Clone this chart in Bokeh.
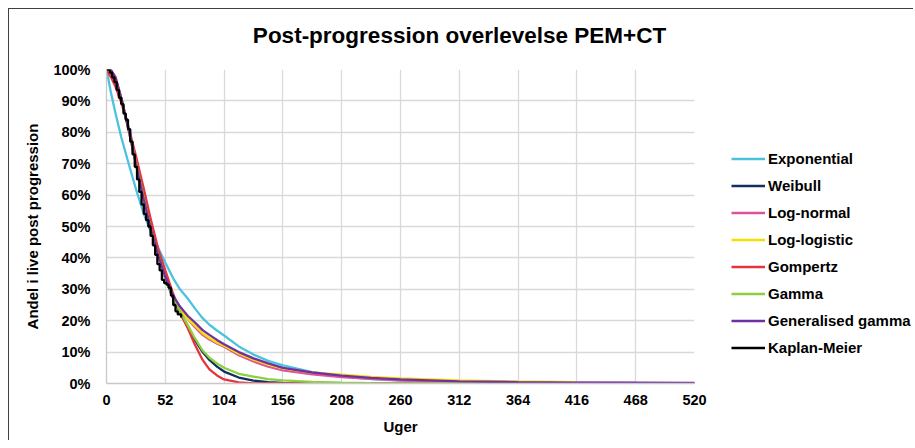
from bokeh.plotting import figure
from bokeh.layouts import row, column
from bokeh.models import (Legend, LegendItem, Label, FixedTicker,
                          PrintfTickFormatter, Range1d)
from bokeh.embed import file_html
from bokeh.resources import INLINE

weeks = [0, 4, 8, 13, 20, 26, 33, 39, 46, 52, 59, 65, 72, 78, 85, 91, 98, 104,
         117, 130, 143, 156, 182, 208, 234, 260, 312, 364, 416, 468, 520]

# survival in percent
exponential = [100, 92.5, 86, 78.5, 69.5, 62, 54, 48.5, 43, 38.5, 33.5, 30, 27, 24, 20.8, 18.7,
               16.8, 15.3, 11.8, 9.2, 7.2, 5.8, 3.6, 2.2, 1.4, 0.9, 0.35, 0.15, 0.06, 0.02, 0.01]
weibull = [100, 99, 96.5, 91, 80.5, 70.5, 59, 49.5, 40.5, 33.5, 27, 22.5, 18, 14, 10, 7.5,
           5.3, 3.8, 1.9, 0.9, 0.4, 0.17, 0.03, 0, 0, 0, 0, 0, 0, 0, 0]
log_normal = [100, 99.8, 97.5, 91, 80, 70, 58.5, 49.5, 40.5, 34.5, 28, 23.5, 20.5, 18, 15.5, 14,
              12.7, 11.7, 9, 7, 5.4, 4.2, 2.9, 2, 1.5, 1, 0.55, 0.35, 0.25, 0.18, 0.15]
log_logistic_weeks = weeks[:29]
log_logistic = [100, 99.5, 97, 91, 80, 70, 58.5, 49.5, 40.5, 34, 27.5, 23.5, 20.5, 18.5, 16, 14.5,
                13, 12, 9.5, 7.6, 6, 4.8, 3.5, 2.8, 2.1, 1.6, 0.95, 0.65, 0.45]
gompertz = [100, 97.5, 94.5, 89.5, 81, 72.5, 62, 52.5, 42.5, 36, 28.5, 22.5, 17.5, 12.5, 7.5, 4.5,
            2.5, 1.3, 0.35, 0.07, 0.01, 0, 0, 0, 0, 0, 0, 0, 0, 0, 0]
gamma = [100, 99.5, 97, 91, 80.5, 70.5, 59, 49.5, 40.5, 33.5, 27.5, 23, 18.5, 14.5, 10.5, 8.2,
         6.3, 5, 3.1, 2.2, 1.4, 1, 0.5, 0.25, 0.12, 0.06, 0.02, 0.01, 0, 0, 0]
gen_gamma = [100, 99.8, 97.5, 91, 80, 70, 58.5, 49.5, 40.5, 34, 28, 24.5, 21.5, 19.5, 17, 15.5,
             13.8, 12.5, 10, 8, 6.4, 5, 3.5, 2.5, 1.8, 1.3, 0.7, 0.45, 0.3, 0.25, 0.2]

km_weeks = [0, 3, 5, 7, 9, 11, 13, 15, 17, 19, 21, 23, 25, 27, 29, 31, 33, 35, 37, 39, 41, 43,
            45, 47, 49, 51, 53, 55, 57, 59, 61, 63, 66]
km_surv = [100, 99, 97.5, 96, 93.5, 91, 89, 86, 84, 81, 77, 73, 69, 65, 61, 57, 54, 52, 50, 47,
           44, 41, 38, 36, 33, 32, 31.5, 30.5, 28, 25, 23, 22, 21]

x_ticks = [0, 52, 104, 156, 208, 260, 312, 364, 416, 468, 520]
y_ticks = [0, 10, 20, 30, 40, 50, 60, 70, 80, 90, 100]

series_names = ["Exponential", "Weibull", "Log-normal", "Log-logistic", "Gompertz",
                "Gamma", "Generalised gamma", "Kaplan-Meier"]
series_colors = ["#4BC3DD", "#10305F", "#E0529C", "#F2E000", "#E8323C",
                 "#8DCF3F", "#7030A0", "black"]

FONT = "Liberation Sans"
BORDER = "1px solid #404040"

# title strip across the top
tf = figure(width=905, height=51, output_backend="svg", toolbar_location=None,
            x_range=Range1d(0, 1), y_range=Range1d(0, 1), min_border=0,
            x_axis_location=None, y_axis_location=None)
tf.styles = {"margin-left": "8px", "margin-top": "8px",
             "border-top": BORDER, "border-left": BORDER}
tf.outline_line_color = None
tf.grid.visible = False
tf.add_layout(Label(x=450, y=25, x_units="screen", y_units="screen",
                    text="Post-progression overlevelse PEM+CT", text_align="center",
                    text_baseline="alphabetic", text_font=FONT, text_font_style="bold",
                    text_font_size="22.5px", text_color="black"))

p = figure(width=711, height=381, output_backend="svg", toolbar_location=None,
           x_range=Range1d(0, 520), y_range=Range1d(0, 100),
           min_border_left=97, min_border_right=26, min_border_top=10, min_border_bottom=57)
p.styles = {"margin-left": "8px", "border-left": BORDER}
p.outline_line_color = None

p.xaxis.ticker = FixedTicker(ticks=x_ticks)
p.yaxis.ticker = FixedTicker(ticks=y_ticks)
p.yaxis.formatter = PrintfTickFormatter(format="%d%%")
for ax in (p.xaxis, p.yaxis):
    ax.major_tick_in = 0
    ax.major_tick_out = 0
    ax.minor_tick_in = 0
    ax.minor_tick_out = 0
    ax.axis_line_color = "#C8C8C8"
    ax.axis_line_width = 1.3
    ax.major_label_text_font = FONT
    ax.major_label_text_font_style = "bold"
    ax.major_label_text_font_size = "14.5px"
    ax.major_label_text_color = "black"
    ax.axis_label_text_font = FONT
    ax.axis_label_text_font_style = "bold"
    ax.axis_label_text_font_size = "15px"
    ax.axis_label_text_color = "black"
p.xaxis.major_label_standoff = 11
p.yaxis.major_label_standoff = 16
p.xaxis.axis_label = "Uger"
p.yaxis.axis_label = "Andel i live post progression"
p.xaxis.axis_label_standoff = 10
p.yaxis.axis_label_standoff = 9

p.grid.grid_line_color = "#D9D9D9"
p.grid.grid_line_width = 1.3

lw = 2.3
series_data = [(weeks, exponential), (weeks, weibull), (weeks, log_normal),
               (log_logistic_weeks, log_logistic), (weeks, gompertz), (weeks, gamma),
               (weeks, gen_gamma)]
for (xs, ys), color in zip(series_data, series_colors):
    p.line(xs, ys, line_color=color, line_width=lw)
p.step(km_weeks, km_surv, mode="after", line_color=series_colors[7], line_width=lw)

# legend lives in its own small canvas to the right of the plot;
# its lines reuse the data but sit outside that canvas' visible range
lg = figure(width=194, height=381, output_backend="svg", toolbar_location=None,
            x_range=Range1d(1000, 1001), y_range=Range1d(1000, 1001), min_border=0,
            x_axis_location=None, y_axis_location=None)
lg.outline_line_color = None
lg.grid.visible = False

items = []
for name, color, (xs, ys) in zip(series_names, series_colors,
                                 series_data + [(km_weeks, km_surv)]):
    r = lg.line(xs, ys, line_color=color, line_width=lw)
    items.append(LegendItem(label=name, renderers=[r]))

legend = Legend(items=items, location=(12, 27))
legend.label_text_font = FONT
legend.label_text_font_style = "bold"
legend.label_text_font_size = "15px"
legend.label_text_color = "black"
legend.glyph_width = 34
legend.glyph_height = 17
legend.label_height = 17
legend.label_standoff = 3
legend.spacing = 10
legend.padding = 0
legend.margin = 0
legend.border_line_color = None
legend.background_fill_alpha = 0
lg.add_layout(legend)

open("out.html", "w").write(file_html(column(tf, row(p, lg)), INLINE))
